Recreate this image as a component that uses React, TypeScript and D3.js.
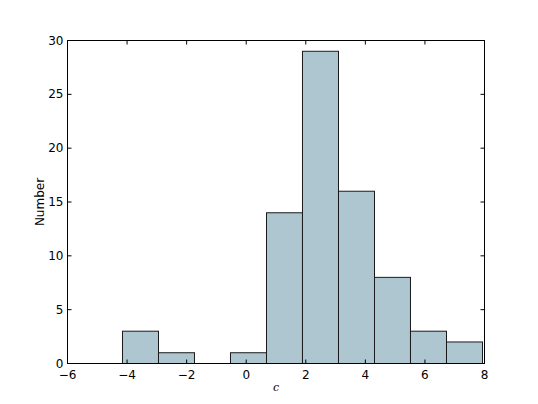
import React from "react";
import * as d3 from "d3";

const binEdges = [-4.154, -2.945, -1.737, -0.528, 0.681, 1.889, 3.098, 4.307, 5.515, 6.724, 7.933];
const counts = [3, 1, 0, 1, 14, 29, 16, 8, 3, 2];
const xTicks = [-6, -4, -2, 0, 2, 4, 6, 8];
const yTicks = [0, 5, 10, 15, 20, 25, 30];

const W = 538, H = 404;
const L = 67.5, R = 484.5, T = 40.5, B = 363.5;

export default function App() {
  const x = d3.scaleLinear().domain([-6, 8]).range([L, R]);
  const y = d3.scaleLinear().domain([0, 30]).range([B, T]);
  const font = "DejaVu Sans, sans-serif";
  const fmt = (v: number) => (v < 0 ? "\u2212" + Math.abs(v) : String(v));
  return (
    <svg width={W} height={H} style={{ position: "absolute", left: 0, top: 0, background: "#fff" }}>
      {counts.map((c, i) => (
        <rect
          key={i}
          x={x(binEdges[i])}
          y={y(c)}
          width={x(binEdges[i + 1]) - x(binEdges[i])}
          height={y(0) - y(c)}
          fill="#adc6d0"
          stroke="#1a1a1a"
          strokeWidth={1}
          style={{ display: c === 0 ? "none" : undefined }}
        />
      ))}
      <rect x={L} y={T} width={R - L} height={B - T} fill="none" stroke="#000" strokeWidth={1} />
      {xTicks.map((t) => (
        <g key={"x" + t}>
          <line x1={x(t)} x2={x(t)} y1={B} y2={B - 4} stroke="#000" />
          <line x1={x(t)} x2={x(t)} y1={T} y2={T + 4} stroke="#000" />
          <text x={x(t)} y={B + 15} textAnchor="middle" fontFamily={font} fontSize={12}>
            {fmt(t)}
          </text>
        </g>
      ))}
      {yTicks.map((t) => (
        <g key={"y" + t}>
          <line x1={L} x2={L + 4} y1={y(t)} y2={y(t)} stroke="#000" />
          <line x1={R} x2={R - 4} y1={y(t)} y2={y(t)} stroke="#000" />
          <text x={L - 4} y={y(t) + 4} textAnchor="end" fontFamily={font} fontSize={12}>
            {fmt(t)}
          </text>
        </g>
      ))}
      <text x={(L + R) / 2} y={391} textAnchor="middle" fontFamily="DejaVu Serif, serif" fontStyle="italic" fontSize={11}>
        c
      </text>
      <text
        transform={`translate(44,${(T + B) / 2}) rotate(-90)`}
        textAnchor="middle"
        fontFamily={font}
        fontSize={12}
      >
        Number
      </text>
    </svg>
  );
}
